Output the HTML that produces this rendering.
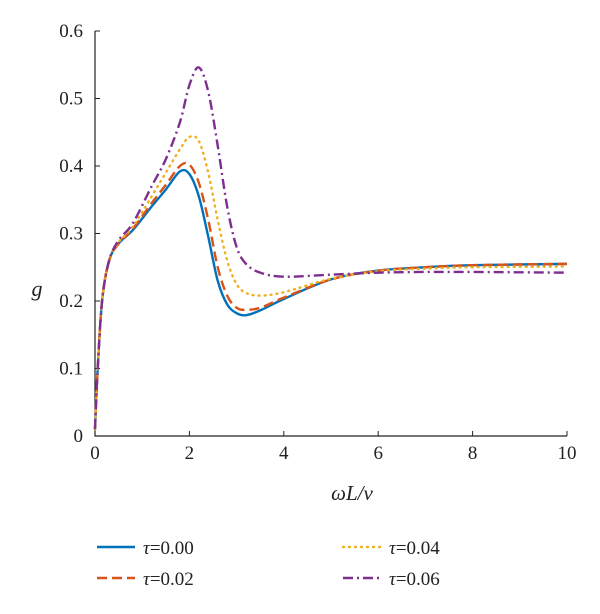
<!DOCTYPE html>
<html><head><meta charset="utf-8"><style>
body{margin:0;background:#fff;}
svg text{font-family:"Liberation Serif",serif;fill:#222;}
</style></head><body>
<svg width="600" height="609" viewBox="0 0 600 609">
<g id="plot"></g>
</svg>
<script>
const xValues=[0,0.05,0.15,0.3,0.5,0.8,1.2,1.5,1.8,2.0,2.2,2.4,2.6,2.8,3.0,3.2,3.5,4,5,6,7,8,10];
const tau000=[0.01,0.09,0.2,0.26,0.285,0.305,0.34,0.365,0.392,0.388,0.355,0.295,0.23,0.195,0.182,0.179,0.186,0.203,0.232,0.245,0.25,0.253,0.255];
const tau002=[0.01,0.09,0.2,0.26,0.285,0.307,0.345,0.372,0.400,0.402,0.375,0.32,0.25,0.208,0.19,0.187,0.19,0.205,0.232,0.245,0.25,0.253,0.255];
const tau004=[0.01,0.09,0.2,0.26,0.287,0.31,0.355,0.39,0.425,0.443,0.437,0.39,0.32,0.26,0.225,0.212,0.208,0.213,0.233,0.244,0.248,0.25,0.251];
const tau006=[0.01,0.09,0.2,0.26,0.29,0.315,0.37,0.41,0.465,0.52,0.546,0.51,0.43,0.34,0.28,0.255,0.242,0.236,0.239,0.242,0.243,0.243,0.242];
const xTicks=[0,2,4,6,8,10];
const yTicks=[0,0.1,0.2,0.3,0.4,0.5,0.6];
const seriesNames=["τ=0.00","τ=0.02","τ=0.04","τ=0.06"];

const NS="http://www.w3.org/2000/svg";
const g=document.getElementById('plot');
const X0=95,X1=567,Y0=436,Y1=31;
const sx=v=>X0+(v-0)/(10-0)*(X1-X0);
const sy=v=>Y0-(v-0)/(0.6-0)*(Y0-Y1);
function mk(t,a,p){const e=document.createElementNS(NS,t);for(const k in a)e.setAttribute(k,a[k]);(p||g).appendChild(e);return e;}

const ax=mk('path',{d:`M${X0},${Y1}V${Y0}H${X1}`,fill:'none',stroke:'#222','stroke-width':1.2});


xTicks.forEach(t=>{
 const l=mk('line',{x1:sx(t),x2:sx(t),y1:Y0,y2:Y0-5,stroke:'#222'});
 
 
 const tx=mk('text',{x:sx(t),y:Y0+23,'text-anchor':'middle','font-size':19});
 tx.textContent=t;
 
 
});
yTicks.forEach(t=>{
 const l=mk('line',{x1:X0,x2:X0+5,y1:sy(t),y2:sy(t),stroke:'#222'});
 
 
 const tx=mk('text',{x:X0-12,y:sy(t)+6,'text-anchor':'end','font-size':19});
 tx.textContent=t===0?'0':t.toFixed(1);
 
 
});
const xt=mk('text',{x:352,y:500,'text-anchor':'middle','font-size':21,'font-style':'italic'});
xt.textContent='ωL/ν';


const yt=mk('text',{x:37,y:296,'text-anchor':'middle','font-size':22,'font-style':'italic'});
yt.textContent='g';



function pathFrom(ys){
 const p=xValues.map((x,i)=>[sx(x),sy(ys[i])]);
 let d=`M${p[0][0]},${p[0][1]}`;
 for(let i=0;i<p.length-1;i++){
  const a=p[Math.max(i-1,0)],b=p[i],c=p[i+1],e=p[Math.min(i+2,p.length-1)];
  const c1=[b[0]+(c[0]-a[0])/6,b[1]+(c[1]-a[1])/6],c2=[c[0]-(e[0]-b[0])/6,c[1]-(e[1]-b[1])/6];
  d+=`C${c1[0]},${c1[1]} ${c2[0]},${c2[1]} ${c[0]},${c[1]}`;
 }
 return d;
}
const styles=[
 {c:'#0072BD',dash:'',cap:'butt'},
 {c:'#D95319',dash:'10,5',cap:'butt'},
 {c:'#EDB120',dash:'1,5',cap:'round'},
 {c:'#7E2F8E',dash:'10,4,2,4',cap:'butt'}];
const data=[tau000,tau002,tau004,tau006];
const lineNames=['line-tau-000','line-tau-002','line-tau-004','line-tau-006'];
data.forEach((ys,i)=>{
 const s=styles[i];
 const el=mk('path',{d:pathFrom(ys),fill:'none',stroke:s.c,'stroke-width':2.4,'stroke-dasharray':s.dash,'stroke-linecap':s.cap});
 
 
});
const legPos=[[97,547],[97,578],[343,547],[343,578]];
seriesNames.forEach((n,i)=>{
 const s=styles[i],[lx,ly]=legPos[i];
 const grp=mk('g',{});
 
 
 mk('line',{x1:lx,x2:lx+38,y1:ly,y2:ly,stroke:s.c,'stroke-width':2.4,'stroke-dasharray':s.dash,'stroke-linecap':s.cap},grp);
 const t=mk('text',{x:lx+46,y:ly+7,'font-size':19},grp);
 t.innerHTML='<tspan font-style="italic">τ</tspan>'+n.slice(1);
});
</script>
</body></html>
